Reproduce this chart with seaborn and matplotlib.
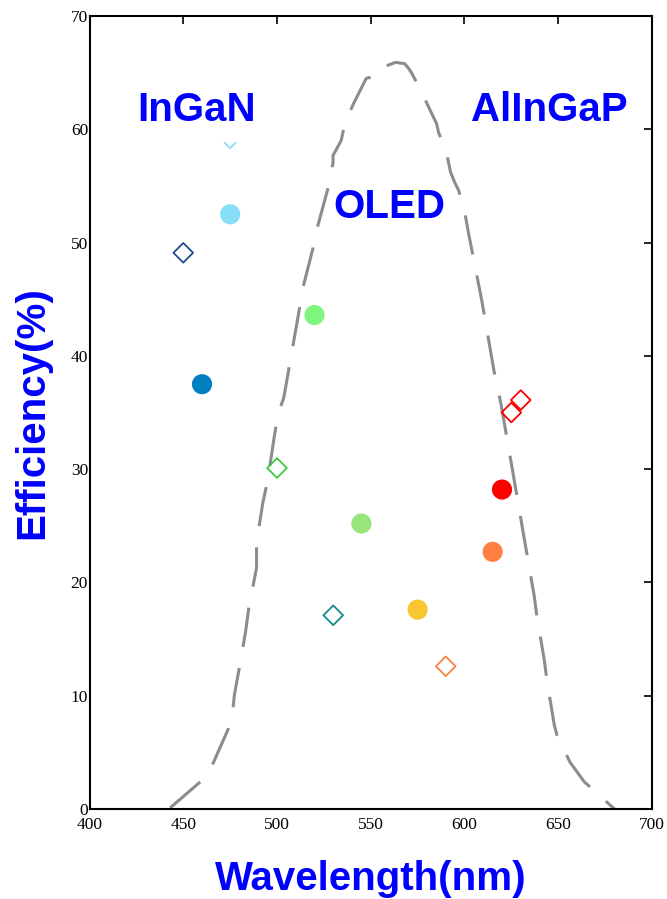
import matplotlib
matplotlib.use("Agg")
import matplotlib.pyplot as plt
from matplotlib.path import Path
import seaborn as sns
import pandas as pd

# ---- data ----
circle_wl = [475, 460, 520, 545, 575, 615, 620]
circle_eff = [52.5, 37.5, 43.6, 25.2, 17.6, 22.7, 28.2]
circle_colors = ["#86DEF7", "#0080C0", "#7EF77E", "#99E57B", "#F7C630", "#FF8040", "#FF0000"]

diamond_wl = [450, 500, 530, 590, 625, 630]
diamond_eff = [49.1, 30.1, 17.1, 12.6, 35.0, 36.1]
diamond_colors = ["#1F4E90", "#3CCB3C", "#148C8C", "#FF7F3F", "#FF0000", "#FF0000"]

vmark_wl = [475]
vmark_eff = [58.6]
vmark_colors = ["#87DEF5"]

oled_wl = [443.0, 459.1, 466.1, 474.1, 476.3, 477.3, 479.5, 483.2, 484.9, 489.1, 489.1,
           492.4, 495.0, 498.3, 500.4, 503.6, 511.7, 513.8, 519.2, 521.8, 527.7, 529.9,
           529.9, 534.2, 536.3, 541.2, 547.6, 550.3, 551.9, 563.1, 568.0, 570.1, 571.7,
           576.5, 581.9, 585.1, 586.2, 589.9, 592.6, 594.8, 596.9, 600.1, 602.3, 609.2,
           615.7, 619.4, 625.3, 631.2, 637.1, 638.7, 642.5, 644.1, 647.9, 649.5, 656.4,
           663.9, 680.0]
oled_eff = [0.1, 2.4, 4.1, 7.1, 8.5, 10.1, 12.1, 15.6, 17.7, 21.3, 23.5,
            27.0, 29.0, 32.6, 34.8, 36.3, 43.9, 46.0, 49.5, 51.5, 55.1, 57.1,
            57.7, 59.0, 60.6, 62.4, 64.5, 64.6, 65.2, 65.9, 65.8, 65.4, 65.0,
            63.5, 61.6, 60.5, 59.7, 58.3, 56.2, 55.3, 54.6, 52.7, 50.7, 44.9,
            38.7, 35.8, 30.2, 24.5, 18.9, 16.9, 13.2, 11.2, 7.4, 6.4, 4.1,
            2.4, 0.0]

labels = ["InGaN", "AlInGaP", "OLED"]
label_wl = [457, 645, 560]
label_eff = [61.7, 61.7, 53.1]

x_ticks = [400, 450, 500, 550, 600, 650, 700]
y_ticks = [0, 10, 20, 30, 40, 50, 60, 70]

# ---- style ----
sns.set_style("white")
plt.rcParams["font.family"] = ["Liberation Serif", "DejaVu Serif"]

fig = plt.figure(figsize=(6.67, 8.99), dpi=100)
ax = fig.add_axes([0.1342, 0.1001, 0.8433, 0.8821])

# OLED dashed curve
oled_df = pd.DataFrame({"wl": oled_wl, "eff": oled_eff})
sns.lineplot(data=oled_df, x="wl", y="eff", sort=False, estimator=None, ax=ax,
             color="#8C8C8C", linewidth=2.2, linestyle=(0, (13, 7)), zorder=2)

# filled circles
cdf = pd.DataFrame({"wl": circle_wl, "eff": circle_eff, "k": [str(i) for i in range(len(circle_wl))]})
sns.scatterplot(data=cdf, x="wl", y="eff", hue="k", palette=circle_colors, s=210,
                marker="o", linewidth=0, legend=False, ax=ax, zorder=3)

# open diamonds
ddf = pd.DataFrame({"wl": diamond_wl, "eff": diamond_eff, "k": [str(i) for i in range(len(diamond_wl))]})
sns.scatterplot(data=ddf, x="wl", y="eff", hue="k", palette=diamond_colors, s=100,
                marker="D", legend=False, ax=ax, zorder=3)
coll = ax.collections[-1]
fcs = coll.get_facecolors()
coll.set_edgecolors(fcs)
coll.set_facecolors("none")
coll.set_linewidths(1.3)

# small open 'v' mark
vpath = Path([(-1.0, 0.5), (0.0, -0.5), (1.0, 0.5)], [Path.MOVETO, Path.LINETO, Path.LINETO])
vdf = pd.DataFrame({"wl": vmark_wl, "eff": vmark_eff})
sns.scatterplot(data=vdf, x="wl", y="eff", color=vmark_colors[0], s=75, marker=vpath,
                legend=False, ax=ax, zorder=3)
vc = ax.collections[-1]
vc.set_edgecolors(vmark_colors[0])
vc.set_facecolors("none")
vc.set_linewidths(1.3)

# labels in plot
for t, xw, ye in zip(labels, label_wl, label_eff):
    ax.text(xw, ye, t, ha="center", va="center", fontsize=29, fontweight="bold",
            color="#0000FF", family=["Liberation Sans", "DejaVu Sans"])

ax.set_xlim(400, 700)
ax.set_ylim(0, 70)
ax.set_xticks(x_ticks)
ax.set_yticks(y_ticks)
ax.tick_params(direction="in", length=5.5, width=1.2, top=True, right=True,
               labelsize=12.5, colors="black")
ax.tick_params(axis="x", pad=6)
ax.tick_params(axis="y", pad=1)
for sp in ax.spines.values():
    sp.set_visible(True)
    sp.set_color("black")
    sp.set_linewidth(1.5)

ax.set_xlabel("Wavelength(nm)", fontsize=29, fontweight="bold", color="#0000FF",
              family=["Liberation Sans", "DejaVu Sans"], labelpad=19)
ax.set_ylabel("Efficiency(%)", fontsize=29, fontweight="bold", color="#0000FF",
              family=["Liberation Sans", "DejaVu Sans"], labelpad=14)

fig.savefig("out.png", dpi=100)
